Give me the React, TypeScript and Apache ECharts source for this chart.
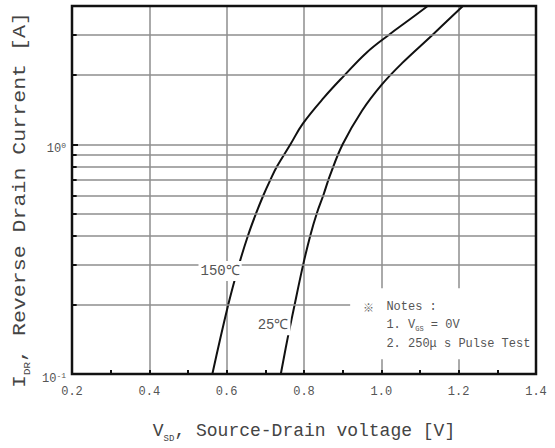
import React, { useEffect, useRef } from 'react';
import * as echarts from 'echarts';

// 150 °C curve (V_SD in V, I_DR in A)
const vsd150 = [0.563, 0.604, 0.632, 0.655, 0.676, 0.695, 0.713, 0.73, 0.765, 0.797, 0.852, 0.905, 0.961, 1.02, 1.074, 1.12];
const idr150 = [0.1, 0.2, 0.3, 0.4, 0.5, 0.6, 0.7, 0.8, 1.0, 1.23, 1.6, 2.0, 2.5, 3.0, 3.5, 4.0];
// 25 °C curve
const vsd25 = [0.74, 0.759, 0.77, 0.798, 0.817, 0.833, 0.85, 0.867, 0.9, 0.95, 1.0, 1.053, 1.13, 1.211];
const idr25 = [0.1, 0.147, 0.18, 0.3, 0.405, 0.5, 0.6, 0.73, 1.0, 1.4, 1.81, 2.25, 2.97, 4.0];

const xMin = 0.2;
const xMax = 1.4;
const xStep = 0.2;
const yMin = 0.1;
const yMax = 4;
const yGridValues = [0.3, 0.4, 0.5, 0.6, 0.7, 0.8, 0.9, 2, 3];
const yGridShort = 0.2;
const yGridShortEnd = 0.92;
const yTickValues = [0.2, 0.3, 0.4, 0.5, 0.6, 0.7, 0.8, 0.9, 2, 3];
const yTickEnd = 0.212;

const label150Pos = [0.583, 0.281];
const label25Pos = [0.72, 0.163];
const notesBoxFrom = [0.92, 0.236];
const notesBoxTo = [1.393, 0.116];

const FONT = "'Liberation Mono', 'DejaVu Sans Mono', monospace";

export default function App() {
  const ref = useRef<HTMLDivElement>(null);
  useEffect(() => {
    const chart = echarts.init(ref.current!, null, { renderer: 'svg' });
    const gridColor = '#8e8e8e';
    chart.setOption({
      animation: false,
      grid: { left: 72, top: 6, right: 19, bottom: 65.5 },
      xAxis: {
        type: 'value',
        min: xMin,
        max: xMax,
        interval: xStep,
        name: '{b|V}{s|SD}{b|, Source-Drain voltage [V]}',
        nameLocation: 'middle',
        nameGap: 45,
        nameTextStyle: {
          rich: {
            b: { fontFamily: FONT, fontSize: 18, color: '#444', lineHeight: 24, verticalAlign: 'middle' },
            s: { fontFamily: FONT, fontSize: 9, color: '#444', lineHeight: 9, verticalAlign: 'bottom' },
          },
        },
        axisLine: { show: false },
        axisTick: { show: true, inside: true, length: 4, lineStyle: { color: '#111', width: 2 } },
        minorTick: { show: true, splitNumber: 2, length: 4, lineStyle: { color: '#111', width: 2 } },
        axisLabel: {
          margin: 12,
          color: '#555',
          fontFamily: FONT,
          fontSize: 12,
          formatter: (v: number) => v.toFixed(1),
        },
        splitLine: { show: true, lineStyle: { color: gridColor, width: 1.5 } },
      },
      yAxis: {
        type: 'log',
        logBase: 10,
        min: yMin,
        max: yMax,
        axisLine: { show: false },
        axisTick: { show: true, inside: true, length: 6, lineStyle: { color: '#111', width: 2 } },
        axisLabel: {
          margin: 6,
          showMaxLabel: false,
          padding: [8, 0, 0, 0],
          formatter: (v: number) => {
            if (Math.abs(v - 1) < 1e-6) return '{b|10}{p|0}';
            if (Math.abs(v - 0.1) < 1e-6) return '{b|10}{p|-1}';
            return '';
          },
          rich: {
            b: { fontFamily: FONT, fontSize: 12, color: '#555', lineHeight: 14, verticalAlign: 'bottom' },
            p: { fontFamily: FONT, fontSize: 8, color: '#555', lineHeight: 8, verticalAlign: 'top' },
          },
        },
        splitLine: { show: true, lineStyle: { color: gridColor, width: 1.5 } },
      },
      series: [
        {
          type: 'line',
          name: 'grid',
          data: [],
          z: 1,
          silent: true,
          markLine: {
            silent: true,
            symbol: 'none',
            animation: false,
            label: { show: false },
            lineStyle: { color: gridColor, width: 1.5, type: 'solid' },
            data: [
              ...yGridValues.map((v) => ({ yAxis: v })),
              [{ coord: [xMin, yGridShort] }, { coord: [yGridShortEnd, yGridShort] }],
            ],
          },
        },
        {
          type: 'line',
          name: 'ticks',
          data: [],
          z: 3,
          silent: true,
          markLine: {
            silent: true,
            symbol: 'none',
            animation: false,
            label: { show: false },
            lineStyle: { color: '#111', width: 2, type: 'solid' },
            data: yTickValues.map((v) => [{ coord: [xMin, v] }, { coord: [yTickEnd, v] }]),
          },
        },
        {
          type: 'line',
          name: '150℃',
          data: vsd150.map((x, i) => [x, idr150[i]]),
          showSymbol: false,
          smooth: 0.4,
          z: 2,
          lineStyle: { color: '#111', width: 2 },
        },
        {
          type: 'line',
          name: '25℃',
          data: vsd25.map((x, i) => [x, idr25[i]]),
          showSymbol: false,
          smooth: 0.4,
          z: 2,
          lineStyle: { color: '#111', width: 2 },
        },
      ],
    });

    const px = (p: number[]) => chart.convertToPixel({ gridIndex: 0 }, p) as number[];
    const l150 = px(label150Pos);
    const l25 = px(label25Pos);
    const nb0 = px(notesBoxFrom);
    const nb1 = px(notesBoxTo);
    const tl = px([xMin, yMax]);
    const br = px([xMax, yMin]);

    const labelStyle = (text: string) => ({
      text,
      fill: '#555',
      fontFamily: FONT,
      fontSize: 14,
      align: 'center',
      verticalAlign: 'middle',
      backgroundColor: '#fff',
      padding: [3, 2, 3, 2],
    });

    chart.setOption({
      graphic: [
        { type: 'text', x: l150[0], y: l150[1], z: 10, style: labelStyle('150℃') },
        { type: 'text', x: l25[0], y: l25[1], z: 10, style: labelStyle('25℃') },
        {
          type: 'rect',
          z: 5,
          shape: { x: nb0[0], y: nb0[1], width: nb1[0] - nb0[0], height: nb1[1] - nb0[1] },
          style: { fill: '#fff' },
        },
        {
          type: 'text',
          x: nb0[0] + 18,
          y: nb0[1] + 19,
          z: 11,
          style: { text: '※', fill: '#666', fontSize: 11, align: 'center', verticalAlign: 'middle', fontFamily: "'Noto Sans CJK JP', sans-serif" },
        },
        {
          type: 'text',
          x: nb0[0] + 36,
          y: nb0[1] + 19,
          z: 11,
          style: { text: 'Notes :', fill: '#555', fontFamily: FONT, fontSize: 12, align: 'left', verticalAlign: 'middle' },
        },
        {
          type: 'text',
          x: nb0[0] + 36,
          y: nb0[1] + 37,
          z: 11,
          style: {
            text: '{b|1. V}{s|GS}{b| = 0V}',
            align: 'left',
            verticalAlign: 'middle',
            rich: {
              b: { fill: '#555', fontFamily: FONT, fontSize: 12, lineHeight: 14, verticalAlign: 'middle' },
              s: { fill: '#555', fontFamily: FONT, fontSize: 7, lineHeight: 7, verticalAlign: 'bottom' },
            },
          },
        },
        {
          type: 'text',
          x: nb0[0] + 36,
          y: nb0[1] + 56,
          z: 11,
          style: { text: '2. 250μ s Pulse Test', fill: '#555', fontFamily: FONT, fontSize: 12, align: 'left', verticalAlign: 'middle' },
        },
        {
          type: 'text',
          x: 20,
          y: 200,
          rotation: Math.PI / 2,
          scaleX: 1.2,
          z: 11,
          style: {
            text: '{b|I}{s|DR}{b|, Reverse Drain Current [A]}',
            align: 'center',
            verticalAlign: 'middle',
            rich: {
              b: { fill: '#444', fontFamily: FONT, fontSize: 18, lineHeight: 24, verticalAlign: 'middle' },
              s: { fill: '#444', fontFamily: FONT, fontSize: 9, lineHeight: 9, verticalAlign: 'bottom' },
            },
          },
        },
        {
          type: 'rect',
          z: 20,
          silent: true,
          shape: { x: tl[0], y: tl[1], width: br[0] - tl[0], height: br[1] - tl[1] },
          style: { fill: 'none', stroke: '#111', lineWidth: 2.5 },
        },
      ],
    });

    return () => chart.dispose();
  }, []);
  return (
    <div
      ref={ref}
      style={{ position: 'fixed', left: 0, top: 0, width: 555, height: 448, background: '#fff' }}
    />
  );
}
